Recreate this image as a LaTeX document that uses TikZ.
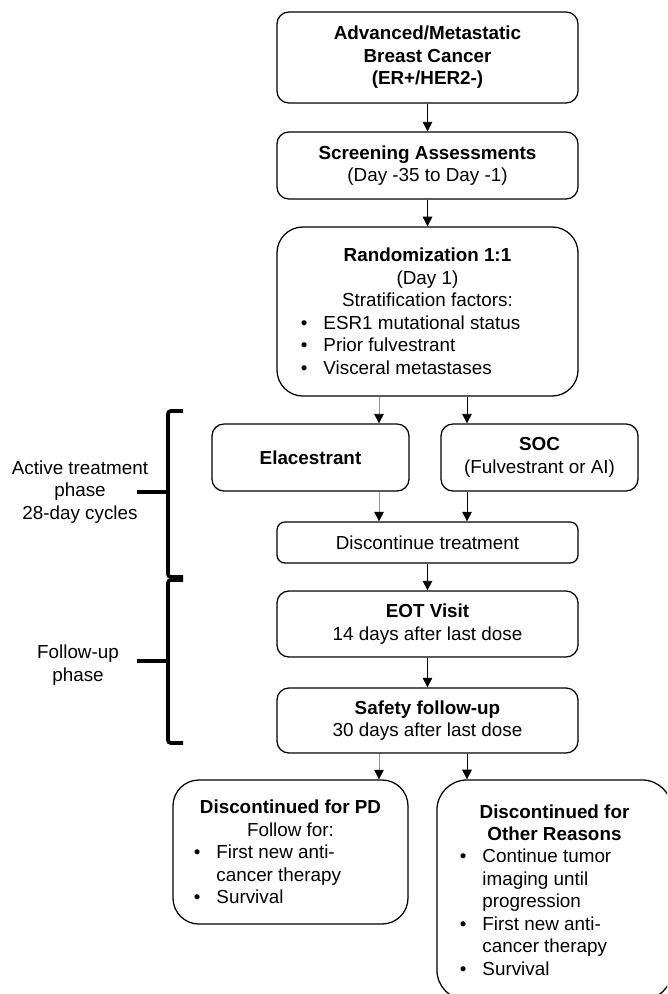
\documentclass[tikz,border=0pt]{standalone}
\usepackage{fontspec}
\setmainfont{Liberation Sans}
\usetikzlibrary{arrows.meta}
\usepackage{xcolor}
\definecolor{linegray}{RGB}{150,150,150}
\newcommand{\boxfont}{\fontsize{13.4}{16}\selectfont}
\newcommand{\bulline}[2]{\makebox[#1][l]{\makebox[16pt][l]{\textbullet}#2}}
\newcommand{\contline}[2]{\makebox[#1][l]{\hspace*{16pt}#2}}

\tikzset{
  flowbox/.style={draw,line width=0.9pt,rounded corners=0.3cm,align=center,
                  inner sep=0pt,font=\boxfont},
  roundbox/.style={flowbox,rounded corners=0.65cm},
  arr/.style={-{Triangle[length=0.24cm,width=0.24cm]},line width=0.7pt},
  grayarr/.style={line width=0.7pt,draw=linegray,
                  -{Triangle[length=0.24cm,width=0.24cm,color=black]}},
  brace/.style={line width=2.6pt,rounded corners=2pt},
  phase/.style={align=center,font=\boxfont}
}

\begin{document}
\begin{tikzpicture}[x=0.025cm,y=-0.025cm]
        \useasboundingbox (0,0) rectangle (667,994);
        \clip (0,0) rectangle (667,994);

        % main column
        \node[flowbox,minimum width=7.525cm,minimum height=2.275cm]
          (adv) at (427.5,57.5)
          {\textbf{Advanced/Metastatic}\\\textbf{Breast Cancer}\\\textbf{(ER+/HER2-)}};
        \node[flowbox,minimum width=7.525cm,minimum height=1.675cm]
          (scr) at (427.5,165.5)
          {\textbf{Screening Assessments}\\(Day -35 to Day -1)};
        \node[roundbox,minimum width=7.525cm,minimum height=4.225cm]
          (rnd) at (427.5,311.5)
          {\textbf{Randomization 1:1}\\(Day 1)\\Stratification factors:\\
           \bulline{6.325cm}{ESR1 mutational status}\\
           \bulline{6.325cm}{Prior fulvestrant}\\
           \bulline{6.325cm}{Visceral metastases}};

        % treatment arms
        \node[flowbox,minimum width=4.925cm,minimum height=1.675cm]
          (ela) at (310.5,457.5) {\textbf{Elacestrant}};
        \node[flowbox,minimum width=4.925cm,minimum height=1.675cm]
          (soc) at (539.5,457.5) {\textbf{SOC}\\(Fulvestrant or AI)};

        \node[flowbox,rounded corners=0.2cm,minimum width=7.525cm,minimum height=1.025cm]
          (dis) at (427.5,542.5) {Discontinue treatment};
        \node[flowbox,minimum width=7.525cm,minimum height=1.65cm]
          (eot) at (427.5,624) {\textbf{EOT Visit}\\14 days after last dose};
        \node[flowbox,minimum width=7.525cm,minimum height=1.625cm]
          (saf) at (427.5,720.5) {\textbf{Safety follow-up}\\30 days after last dose};

        % follow-up outcomes
        \node[roundbox,minimum width=5.875cm,minimum height=3.6cm]
          (pd) at (290.5,852)
          {\textbf{Discontinued for PD}\\Follow for:\\
           \bulline{4.825cm}{First new anti-}\\
           \contline{4.825cm}{cancer therapy}\\
           \bulline{4.825cm}{Survival}};
        \node[roundbox,rounded corners=0.75cm,minimum width=5.875cm,minimum height=5.5cm]
          (oth) at (554.5,890)
          {\textbf{Discontinued for}\\\textbf{Other Reasons}\\
           \bulline{4.725cm}{Continue tumor}\\
           \contline{4.725cm}{imaging until}\\
           \contline{4.725cm}{progression}\\
           \bulline{4.725cm}{First new anti-}\\
           \contline{4.725cm}{cancer therapy}\\
           \bulline{4.725cm}{Survival}};

        % connectors
        \coordinate (lx) at (379,0);
        \coordinate (rx) at (467,0);
        \draw[arr] (adv) -- (scr);
        \draw[arr] (scr) -- (rnd);
        \draw[grayarr] (rnd.south -| lx) -- (ela.north -| lx);
        \draw[arr] (rnd.south -| rx) -- (soc.north -| rx);
        \draw[grayarr] (ela.south -| lx) -- (dis.north -| lx);
        \draw[arr] (soc.south -| rx) -- (dis.north -| rx);
        \draw[arr] (dis) -- (eot);
        \draw[arr] (eot) -- (saf);
        \draw[grayarr] (saf.south -| lx) -- (pd.north -| lx);
        \draw[arr] (saf.south -| rx) -- (oth.north -| rx);

        % phase brackets
        \node[phase] (act) at (80,492) {Active treatment\\phase\\28-day cycles};
        \node[phase] (fol) at (78,665) {Follow-up\\phase};
        \draw[brace] (183,411) -- (168,411) -- (168,577) -- (183,577);
        \draw[brace] (168,492) -- (137,492);
        \draw[brace] (183,580) -- (168,580) -- (168,743) -- (183,743);
        \draw[brace] (168,661) -- (137,661);
      \end{tikzpicture}
\end{document}
